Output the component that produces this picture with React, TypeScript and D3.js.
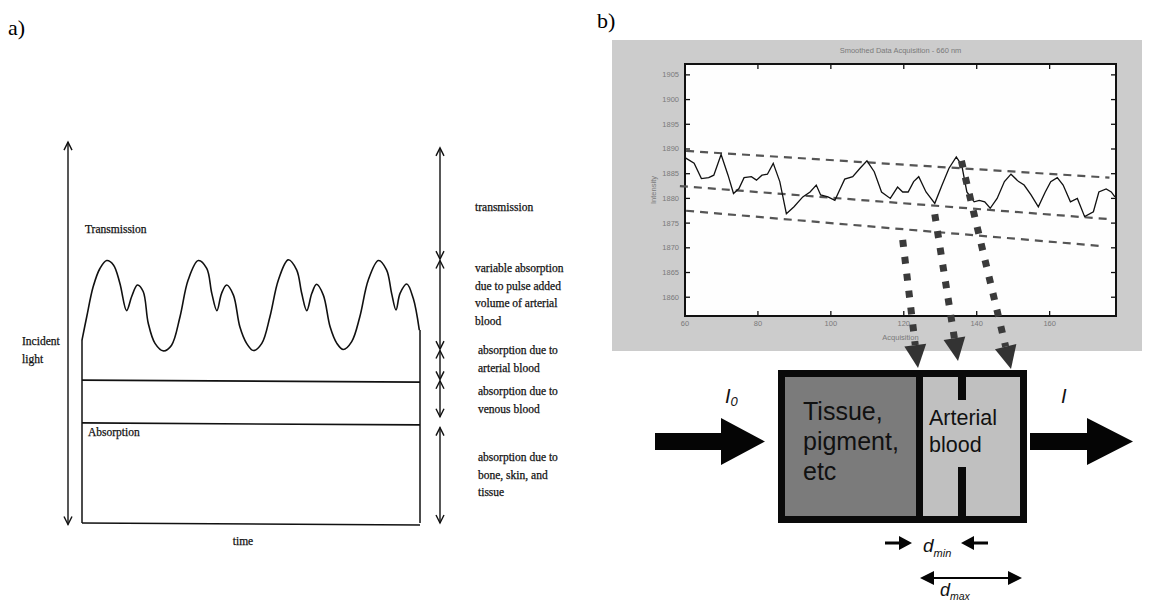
import React from "react";
import * as d3 from "d3";

// ---- panel b: smoothed data acquisition, 660 nm ----
const acquisition = [60.1, 62.5, 64.5, 66.5, 67.9, 69.9, 71.8, 73.3, 74.8, 76.2, 78.2, 79.6, 81.1, 82.6, 84.2, 86.0, 87.8, 89.9, 92.3, 94.3, 96.0, 97.2, 99.2, 101.1, 102.6, 103.8, 106.0, 108.0, 109.9, 111.9, 113.9, 116.3, 118.3, 119.7, 121.2, 122.7, 124.1, 126.1, 128.5, 130.5, 132.4, 134.4, 135.9, 137.3, 139.3, 140.7, 142.2, 143.7, 145.6, 147.6, 149.4, 151.5, 153.0, 154.9, 156.9, 158.8, 160.3, 162.1, 163.7, 165.7, 167.6, 169.6, 172.0, 173.5, 175.5, 176.9, 177.9];
const intensity = [1888.2, 1887.1, 1884.0, 1884.2, 1884.7, 1888.9, 1884.7, 1881.0, 1882.0, 1884.2, 1884.4, 1883.7, 1884.7, 1884.9, 1887.1, 1883.4, 1876.9, 1878.3, 1880.3, 1881.3, 1882.7, 1880.7, 1880.3, 1879.6, 1882.0, 1883.9, 1884.4, 1886.1, 1887.6, 1885.4, 1881.3, 1880.0, 1882.3, 1881.3, 1881.3, 1883.4, 1884.4, 1881.3, 1879.0, 1882.7, 1886.1, 1888.4, 1886.7, 1881.3, 1879.3, 1879.6, 1879.3, 1878.0, 1880.0, 1883.4, 1884.9, 1883.4, 1882.7, 1880.7, 1878.3, 1881.3, 1883.4, 1884.2, 1882.7, 1879.3, 1880.0, 1876.3, 1877.3, 1881.3, 1881.9, 1881.3, 1880.3];
const xTicks = [60, 80, 100, 120, 140, 160];
const yTicks = [1860, 1865, 1870, 1875, 1880, 1885, 1890, 1895, 1900, 1905];

// dashed envelope lines (start / end in data units)
const envStartX = [60.3, 58.6, 60.3];
const envStartY = [1889.6, 1882.5, 1877.5];
const envEndX = [176.4, 176.4, 173.5];
const envEndY = [1884.2, 1875.8, 1870.4];

// where the dotted arrows leave the trace
const pickX = [119.7, 128.5, 135.8];
const pickY = [1871.6, 1876.8, 1887.6];

// ---- panel a: PPG waveform (time 0-100, level 0-100) ----
const waveT = [0, 1.4, 3.3, 5.3, 7.3, 9.3, 11.2, 13.2, 14.7, 16.4, 18.1, 19.6, 21.6, 24.1, 26.5, 29.0, 31.4, 34.4, 36.9, 38.4, 39.9, 41.3, 42.8, 44.8, 46.7, 48.7, 50.7, 53.2, 55.6, 58.1, 61.0, 63.5, 65.0, 66.5, 68.0, 69.4, 71.4, 73.4, 75.4, 77.3, 79.8, 82.2, 84.7, 87.7, 90.1, 91.6, 92.9, 94.1, 96.1, 98.0, 99.8];
const waveLevel = [50.8, 57.3, 65.6, 70.7, 72.9, 71.7, 66.6, 59.0, 62.9, 66.1, 64.3, 55.5, 49.9, 47.8, 49.4, 57.3, 67.5, 72.9, 70.7, 63.8, 59.0, 63.8, 66.1, 63.3, 54.5, 49.9, 47.9, 49.9, 57.3, 67.5, 73.1, 70.3, 63.8, 59.0, 63.8, 66.3, 63.3, 54.5, 49.9, 48.2, 50.4, 57.3, 67.5, 72.9, 70.3, 63.8, 59.2, 63.8, 66.4, 62.4, 53.6];
const layerLevels = [39.7, 27.8, 0];
const incidentRange = [105.8, -0.4];
const bracketTop = [104.2, 72.9, 47.9, 39.5, 26.5];
const bracketBottom = [73.3, 48.3, 39.9, 29.5, 0];
const bracketLabels = [
  ["transmission"],
  ["variable absorption", "due to pulse added", "volume of arterial", "blood"],
  ["absorption due to", "arterial blood"],
  ["absorption due to", "venous blood"],
  ["absorption due to", "bone, skin, and", "tissue"],
];
const bracketLabelY = [211, 272, 354, 395, 461];

const chevron = (x: number, y: number, dir: number) =>
  `M${x - 4},${y - dir * 8}L${x},${y}L${x + 4},${y - dir * 8}`;

const PanelA = () => {
  const xa = d3.scaleLinear().domain([0, 100]).range([82, 420]);
  const ya = d3.scaleLinear().domain([0, 100]).range([523, 163]);
  const wave = d3
    .line<number>()
    .x((_, i) => xa(waveT[i]))
    .y((d) => ya(d))
    .curve(d3.curveCatmullRom)(waveLevel);
  const font = {
    fontFamily: "'Liberation Serif', 'DejaVu Serif', serif",
    fontSize: 11.5,
    fill: "#111",
    stroke: "#111",
    strokeWidth: 0.25,
  };
  const leftX = 68;
  const rightX = 440;

  return (
    <g>
      <text x={8} y={35} fontFamily="'Liberation Serif', serif" fontSize={22}>a)</text>
      {/* wave and layer lines */}
      <path d={wave || ""} fill="none" stroke="#111" strokeWidth={1.6} />
      <line x1={xa(0)} x2={xa(0)} y1={ya(0)} y2={ya(waveLevel[0])} stroke="#111" strokeWidth={1.5} />
      <line x1={xa(100)} x2={xa(100)} y1={ya(0)} y2={ya(waveLevel[waveLevel.length - 1])} stroke="#111" strokeWidth={1.5} />
      {layerLevels.map((lv, i) => (
        <line key={i} x1={xa(0)} x2={xa(100)} y1={ya(lv)} y2={ya(lv) + 2} stroke="#111" strokeWidth={1.6} />
      ))}
      {/* incident light arrow */}
      <line x1={leftX} x2={leftX} y1={ya(incidentRange[0])} y2={ya(incidentRange[1])} stroke="#111" strokeWidth={1.4} />
      <path d={chevron(leftX, ya(incidentRange[0]), -1)} fill="none" stroke="#111" strokeWidth={1.4} />
      <path d={chevron(leftX, ya(incidentRange[1]), 1)} fill="none" stroke="#111" strokeWidth={1.4} />
      {/* bracket arrows */}
      {bracketTop.map((t, i) => (
        <g key={i}>
          <line x1={rightX} x2={rightX} y1={ya(t)} y2={ya(bracketBottom[i])} stroke="#111" strokeWidth={1.4} />
          <path d={chevron(rightX, ya(t), -1)} fill="none" stroke="#111" strokeWidth={1.4} />
          <path d={chevron(rightX, ya(bracketBottom[i]), 1)} fill="none" stroke="#111" strokeWidth={1.4} />
        </g>
      ))}
      {bracketLabels.map((lines, i) => (
        <text key={i} {...font}>
          {lines.map((s, j) => (
            <tspan key={j} x={i < 2 ? 475 : 478} y={bracketLabelY[i] + j * 17.5}>{s}</tspan>
          ))}
        </text>
      ))}
      <text x={85} y={233} {...font}>Transmission</text>
      <text x={88} y={436} {...font}>Absorption</text>
      <text {...font}>
        <tspan x={22} y={345}>Incident</tspan>
        <tspan x={22} y={363}>light</tspan>
      </text>
      <text x={243} y={545} {...font} textAnchor="middle">time</text>
    </g>
  );
};

const PanelB = () => {
  const xb = d3.scaleLinear().domain([60, 178.2]).range([685, 1116]);
  const yb = d3.scaleLinear().domain([1856.2, 1907.2]).range([316, 64]);
  const trace = d3
    .line<number>()
    .x((_, i) => xb(acquisition[i]))
    .y((d) => yb(d))(intensity);
  const small = { fontFamily: "'Liberation Sans', Arial, sans-serif", fontSize: 7.5, fill: "#7a7a7a" };
  const [x0, x1] = xb.range();
  const [y0, y1] = yb.range();

  // dotted arrows into the tissue model
  const tips = [
    [918, 368],
    [958, 361],
    [1011, 369],
  ];

  return (
    <g>
      <text x={597} y={28} fontFamily="'Liberation Serif', serif" fontSize={22}>b)</text>
      <rect x={612} y={40} width={530} height={311} fill="#cccccc" />
      <rect x={x0} y={y1} width={x1 - x0} height={y0 - y1} fill="#fefefe" />
      <text x={(x0 + x1) / 2} y={53} textAnchor="middle" {...small}>Smoothed Data Acquisition - 660 nm</text>
      <text x={(x0 + x1) / 2} y={340} textAnchor="middle" {...small}>Acquisition</text>
      <text transform={`translate(656,${(y0 + y1) / 2}) rotate(-90)`} textAnchor="middle" {...small}>Intensity</text>
      {yTicks.map((t) => (
        <g key={t}>
          <line x1={x0} x2={x0 + 5} y1={yb(t)} y2={yb(t)} stroke="#111" strokeWidth={1.3} />
          <line x1={x1} x2={x1 - 5} y1={yb(t)} y2={yb(t)} stroke="#111" strokeWidth={1.3} />
          <text x={x0 - 6} y={yb(t) + 2.5} textAnchor="end" {...small}>{t}</text>
        </g>
      ))}
      {xTicks.map((t) => (
        <g key={t}>
          <line x1={xb(t)} x2={xb(t)} y1={y0} y2={y0 - 5} stroke="#111" strokeWidth={1.3} />
          <line x1={xb(t)} x2={xb(t)} y1={y1} y2={y1 + 5} stroke="#111" strokeWidth={1.3} />
          <text x={xb(t)} y={y0 + 10} textAnchor="middle" {...small}>{t}</text>
        </g>
      ))}
      <rect x={x0} y={y1} width={x1 - x0} height={y0 - y1} fill="none" stroke="#111" strokeWidth={2} />
      {envStartX.map((sx, i) => (
        <line key={i} x1={xb(sx)} y1={yb(envStartY[i])} x2={xb(envEndX[i])} y2={yb(envEndY[i])}
          stroke="#555" strokeWidth={2.2} strokeDasharray="8 6" />
      ))}
      <path d={trace || ""} fill="none" stroke="#111" strokeWidth={1.3} />
      {pickX.map((px, i) => {
        const sx = xb(px);
        const sy = yb(pickY[i]);
        const [tx, ty] = tips[i];
        const len = Math.hypot(tx - sx, ty - sy);
        const ux = (tx - sx) / len;
        const uy = (ty - sy) / len;
        const bx = tx - ux * 23;
        const by = ty - uy * 23;
        const head = `M${tx},${ty}L${bx - uy * 11},${by + ux * 11}L${bx + uy * 11},${by - ux * 11}Z`;
        return (
          <g key={i}>
            <line x1={sx} y1={sy} x2={bx} y2={by} stroke="#3a3a3a" strokeWidth={7} strokeDasharray="7 10" />
            <path d={head} fill="#333" />
          </g>
        );
      })}
      {/* tissue / arterial model */}
      <rect x={778} y={370} width={249} height={153} fill="#0a0a0a" />
      <rect x={785} y={377} width={131} height={139} fill="#7b7b7b" />
      <rect x={923} y={377} width={97} height={139} fill="#c0c0c0" />
      <rect x={958} y={377} width={8} height={23} fill="#0a0a0a" />
      <rect x={958} y={467} width={8} height={49} fill="#0a0a0a" />
      <g fontFamily="'Liberation Sans', Arial, sans-serif" fill="#111">
        <text x={803} y={420} fontSize={25}>Tissue,</text>
        <text x={803} y={450} fontSize={25}>pigment,</text>
        <text x={803} y={480} fontSize={25}>etc</text>
        <text x={929} y={425} fontSize={21.5}>Arterial</text>
        <text x={929} y={452} fontSize={21.5}>blood</text>
      </g>
      {/* incident / transmitted arrows */}
      <path d="M655,433H721V418L765,441.5L721,465V450H655Z" fill="#050505" />
      <path d="M1030,433H1087V418L1133,441.5L1087,465V450H1030Z" fill="#050505" />
      <g fontFamily="'Liberation Sans', Arial, sans-serif" fontStyle="italic" fill="#111">
        <text x={725} y={403} fontSize={20}>I<tspan fontSize={13} dy={3}>0</tspan></text>
        <text x={1061} y={403} fontSize={20}>I</text>
        <text x={923} y={552} fontSize={19}>d<tspan fontSize={11} dy={5}>min</tspan></text>
        <text x={940} y={596} fontSize={18}>d<tspan fontSize={10.5} dy={4}>max</tspan></text>
      </g>
      <path d="M885,541.5H899V536L912,543L899,550V544.5H885Z" fill="#050505" />
      <path d="M988,541.5H974V536L961,543L974,550V544.5H988Z" fill="#050505" />
      <line x1={930} x2={1012} y1={578} y2={578} stroke="#050505" strokeWidth={2} />
      <path d="M920,578L934,571V585Z" fill="#050505" />
      <path d="M1022,578L1008,571V585Z" fill="#050505" />
    </g>
  );
};

const App = () => (
  <svg width={1154} height={609} style={{ position: "absolute", left: 0, top: 0, background: "#fff" }}>
    <PanelA />
    <PanelB />
  </svg>
);

export default App;
